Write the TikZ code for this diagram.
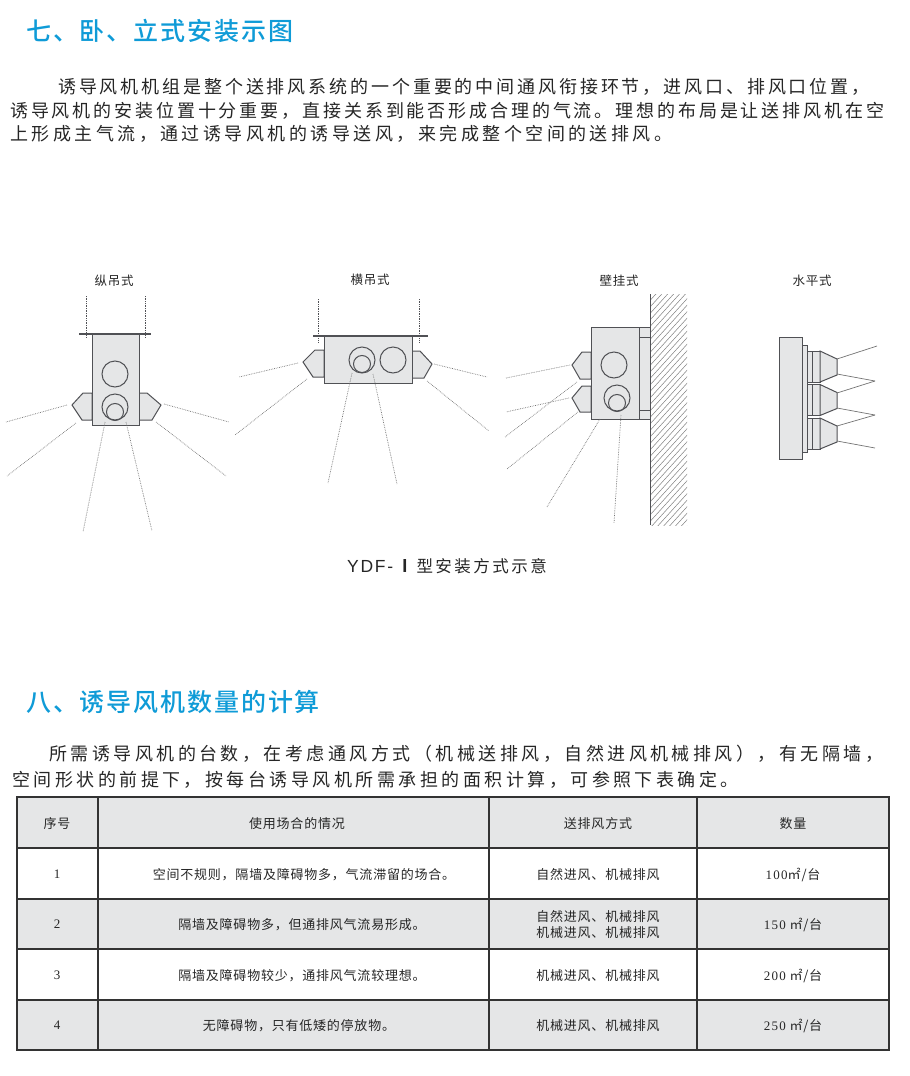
\documentclass[tikz,border=0pt]{standalone}
\usepackage{fontspec}
\setmainfont{Noto Sans CJK SC}
\newfontfamily\headfont[LetterSpace=7.5]{Noto Sans CJK SC Medium}
\newfontfamily\bodyfont[LetterSpace=16]{Noto Sans CJK SC}
\newfontfamily\bodywide[LetterSpace=19.3]{Noto Sans CJK SC}
\newfontfamily\cellfont[LetterSpace=6]{Noto Sans CJK SC}
\newfontfamily\capcjk[LetterSpace=15]{Noto Sans CJK SC}
\newfontfamily\capbar{Noto Sans CJK SC Bold}
\newfontfamily\numfont[LetterSpace=10]{Liberation Serif}
\newfontfamily\capfont[LetterSpace=10]{Liberation Sans}
\definecolor{headblue}{HTML}{0F9BD7}
\definecolor{unitgray}{HTML}{E5E6E7}
\definecolor{edgegray}{HTML}{505155}
\definecolor{textgray}{HTML}{262626}
\tikzset{
  heading/.style={anchor=west, inner sep=0pt, text=headblue, font=\fontsize{25}{28}\selectfont\headfont},
  bodyline/.style={anchor=west, inner sep=0pt, text=textgray, font=\fontsize{18}{20}\selectfont\bodyfont},
  bodywline/.style={anchor=west, inner sep=0pt, text=textgray, font=\fontsize{18}{20}\selectfont\bodywide},
  mountlabel/.style={inner sep=0pt, text=textgray, font=\fontsize{12.5}{14}\selectfont\cellfont},
  cell/.style={inner sep=0pt, align=center, text=textgray, font=\fontsize{13}{16}\selectfont\cellfont},
  unit/.style={fill=unitgray, draw=edgegray, line width=1pt},
  topbar/.style={draw=edgegray, line width=1.4pt},
  hanger/.style={draw=edgegray, line width=0.7pt, densely dotted},
  airline/.style={draw=gray!90!black, line width=0.7pt, densely dotted},
  ringline/.style={draw=edgegray, line width=1pt},
  tableline/.style={draw=black!80, line width=1.3pt}
}
\begin{document}
\begin{tikzpicture}[x=1pt, y=-1pt]
  \useasboundingbox (0,0) rectangle (910,1076);
  % headings and text
  \node[heading] (title1) at (26,31) {七、卧、立式安装示图};
  \node[bodyline] (para1) at (58,87) {诱导风机机组是整个送排风系统的一个重要的中间通风衔接环节，进风口、排风口位置，};
  \node[bodyline] (para2) at (10,111) {诱导风机的安装位置十分重要，直接关系到能否形成合理的气流。理想的布局是让送排风机在空};
  \node[bodywline] (para3) at (10,134) {上形成主气流，通过诱导风机的诱导送风，来完成整个空间的送排风。};
  \node[heading] (title2) at (26,702) {八、诱导风机数量的计算};
  \node[bodywline] (para4) at (49,754) {所需诱导风机的台数，在考虑通风方式（机械送排风，自然进风机械排风），有无隔墙，};
  \node[bodywline] (para5) at (12,780) {空间形状的前提下，按每台诱导风机所需承担的面积计算，可参照下表确定。};
  \node[inner sep=0pt, text=textgray, font=\fontsize{17.5}{18}\selectfont\capfont] (caption) at (447,566) {YDF-{\capbar\,Ⅰ\,}{\fontsize{16.5}{18}\selectfont\capcjk 型安装方式示意}};
  % zong diao
  \node[mountlabel] (label1) at (114,281) {纵吊式};
  \begin{scope}
    \draw[hanger] (86,296)-- (86,338);
    \draw[hanger] (145,296)-- (145,338);
    \filldraw[unit] (92,393)-- (83,393)-- (72,405)-- (82,420)-- (92,420)--cycle;
    \filldraw[unit] (139,393)-- (147,393)-- (161,405)-- (152,420)-- (139,420)--cycle;
    \filldraw[unit] (92,334) rectangle (139,425);
    \draw[topbar] (79,334)-- (151,334);
    \draw[ringline] (115,374) circle (13);
    \draw[ringline] (115,407) circle (13);
    \draw[ringline] (115,412) circle (8.5);
    \draw[airline] (67,405)-- (6,422);
    \draw[airline] (76,423)-- (7,476);
    \draw[airline] (105,422)-- (83,532);
    \draw[airline] (126,422)-- (152,531);
    \draw[airline] (164,404)-- (229,422);
    \draw[airline] (156,422)-- (226,476);
  \end{scope}
  % heng diao
  \node[mountlabel] (label2) at (370,280) {横吊式};
  \begin{scope}
    \draw[hanger] (318,299)-- (318,342);
    \draw[hanger] (419,299)-- (419,342);
    \filldraw[unit] (324,350)-- (315,350)-- (303,362)-- (313,377)-- (324,377)--cycle;
    \filldraw[unit] (412,351)-- (420,351)-- (432,364)-- (424,378)-- (412,378)--cycle;
    \filldraw[unit] (324,336) rectangle (412,383);
    \draw[topbar] (313,336)-- (428,336);
    \draw[ringline] (362,360) circle (13);
    \draw[ringline] (362,364) circle (8.5);
    \draw[ringline] (393,360) circle (13);
    \draw[airline] (298,363)-- (239,377);
    \draw[airline] (307,379)-- (235,435);
    \draw[airline] (352,373)-- (328,483);
    \draw[airline] (373,374)-- (397,484);
    \draw[airline] (434,364)-- (487,377);
    \draw[airline] (427,381)-- (489,431);
  \end{scope}
  % bi gua
  \node[mountlabel] (label3) at (619,281) {壁挂式};
  \begin{scope}
    \begin{scope}
      \clip (650,294) rectangle (687,525);
      \foreach \k in {0,6.5,...,273}
        \draw[gray, line width=0.5pt] (650,294+\k)-- ++(40,-44);
    \end{scope}
    \draw[edgegray, line width=1pt] (650,294)-- (650,525);
    \filldraw[unit] (639,327) rectangle (650,419);
    \draw[ringline] (639,337)-- (650,337);
    \draw[ringline] (639,410)-- (650,410);
    \filldraw[unit] (591,352)-- (582,352)-- (572,365)-- (580,379)-- (591,379)--cycle;
    \filldraw[unit] (591,386)-- (582,386)-- (572,398)-- (580,412)-- (591,412)--cycle;
    \filldraw[unit] (591,327) rectangle (639,419);
    \draw[ringline] (614,365) circle (13);
    \draw[ringline] (617,398) circle (13);
    \draw[ringline] (617,403) circle (8.5);
    \draw[airline] (570,365)-- (506,378);
    \draw[airline] (577,382)-- (505,437);
    \draw[airline] (569,398)-- (506,412);
    \draw[airline] (578,412)-- (507,469);
    \draw[airline] (600,419)-- (547,507);
    \draw[airline] (621,415)-- (614,523);
  \end{scope}
  % shui ping
  \node[mountlabel] (label4) at (812,281) {水平式};
  \begin{scope}
    \filldraw[unit] (779,337) rectangle (802,459);
    \filldraw[unit] (802,345) rectangle (807,452);
    \foreach \y in {351,384.5,418}{
      \filldraw[unit] (807,\y) rectangle (812,\y+31);
      \filldraw[unit] (812,\y) rectangle (820,\y+31);
      \filldraw[unit] (820,\y)-- (837,\y+8)-- (837,\y+24)-- (820,\y+31)--cycle;
    }
    \draw[airline, solid] (837,359)-- (877,346);
    \draw[airline, solid] (837,374)-- (875,381);
    \draw[airline, solid] (837,393)-- (875,381);
    \draw[airline, solid] (837,408)-- (875,415);
    \draw[airline, solid] (837,426)-- (875,415);
    \draw[airline, solid] (837,441)-- (875,448);
  \end{scope}
  % table
  \fill[unitgray] (17,797) rectangle (889,848);
  \fill[unitgray] (17,899) rectangle (889,949);
  \fill[unitgray] (17,1000) rectangle (889,1050);
  \foreach \y in {797,848,899,949,1000,1050}
    \draw[tableline] (16.35,\y)-- (889.65,\y);
  \foreach \x in {17,98,489,697,889}
    \draw[tableline] (\x,797)-- (\x,1050);
  \node[cell] (head1) at (57,824) {序号};
  \node[cell] (head2) at (297,824) {使用场合的情况};
  \node[cell] (head3) at (598,824) {送排风方式};
  \node[cell] (head4) at (793,824) {数量};
  \foreach \n/\y in {1/874,2/924,3/975,4/1025}
    \node[cell, font=\fontsize{13}{16}\selectfont\numfont] (no\n) at (57,\y) {\n};
  \node[cell] (use1) at (304,875) {空间不规则，隔墙及障碍物多，气流滞留的场合。};
  \node[cell] (use2) at (302,925) {隔墙及障碍物多，但通排风气流易形成。};
  \node[cell] (use3) at (302,976) {隔墙及障碍物较少，通排风气流较理想。};
  \node[cell] (use4) at (299,1026) {无障碍物，只有低矮的停放物。};
  \node[cell] (way1) at (598,875) {自然进风、机械排风};
  \node[cell] (way2) at (598,925) {自然进风、机械排风\\机械进风、机械排风};
  \node[cell] (way3) at (598,976) {机械进风、机械排风};
  \node[cell] (way4) at (598,1026) {机械进风、机械排风};
  \node[cell] (num1) at (793,875) {{\numfont 100}㎡/台};
  \node[cell] (num2) at (793,925) {{\numfont 150} ㎡/台};
  \node[cell] (num3) at (793,976) {{\numfont 200} ㎡/台};
  \node[cell] (num4) at (793,1026) {{\numfont 250} ㎡/台};
\end{tikzpicture}
\end{document}
